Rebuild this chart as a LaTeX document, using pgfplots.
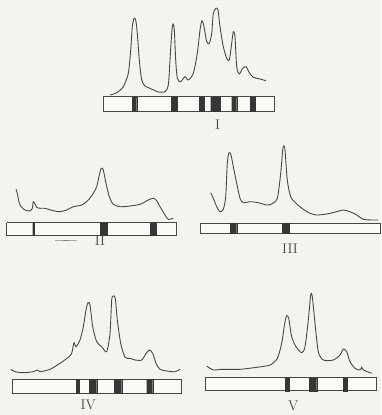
\documentclass[border=0pt]{standalone}
\usepackage{pgfplots}
\pgfplotsset{compat=1.18}
\definecolor{paper}{HTML}{F4F3EE}
\definecolor{ink}{HTML}{474745}
\definecolor{bandc}{HTML}{363634}
\newcommand{\strip}[4]{\addplot[fill=white!50!paper, draw=ink, line width=0.75pt] coordinates {(#1,#3) (#2,#3) (#2,#4) (#1,#4) (#1,#3)};}
\newcommand{\band}[4]{\addplot[fill=bandc, draw=bandc, line width=0.3pt] coordinates {(#1,#3) (#2,#3) (#2,#4) (#1,#4) (#1,#3)};}
\begin{document}
\begin{tikzpicture}
\begin{axis}[
  scale only axis, width=381pt, height=415pt,
  xmin=0, xmax=381, ymin=0, ymax=415, y dir=reverse,
  axis lines=none, clip=false,
  axis background/.style={fill=paper},
  trace/.style={ink, line width=0.9pt, smooth, tension=0.45, mark=none},
]
% ---------- Panel I ----------
\addplot[trace] coordinates {
(110,95) (116.7,92.7) (123.3,86.7) (128.3,73.3) (130.7,50) (132.3,26.7) (134,18.3) (135.7,20)
(137.3,33.3) (139.3,60) (141.7,80) (145,86) (150,88.3) (155,90.7) (158.3,92) (165,91.7)
(168.3,85) (170,60) (171.7,33.3) (173,24) (174.3,30) (175.7,60) (177.3,78.3) (180.7,81.7)
(185,76.7) (188.3,80) (193.3,73.3) (197.3,53.3) (200,30) (202,20.7) (204,26.7) (206.7,41.7)
(209.3,43.3) (211.7,33.3) (213.3,13.3) (216,8.3) (218,10) (220,26.7) (223.3,46.7) (226.7,58.3)
(229.3,60) (231.7,43.3) (233.3,31.7) (235,36.7) (236.7,66.7) (239.3,74) (242.7,68.3) (246,66.7)
(249.3,72.7) (253.3,77.3) (260,79) (266,80.7)};
\strip{103.3}{274.3}{96.7}{111}
\band{132.3}{136.7}{96.7}{111}
\band{171}{177.3}{96.7}{111}
\band{199.3}{204.3}{96.7}{111}
\band{210.7}{220}{96.7}{111}
\band{231.7}{236.7}{96.7}{111}
\band{250}{255}{96.7}{111}
\node[ink, font=\fontsize{14}{16}\selectfont] at (axis cs:217.7,125) {I};
% ---------- Panel II ----------
\addplot[trace] coordinates {
(16,189.3) (17.3,193.3) (19.3,203.3) (21.7,207.3) (25,210) (30,211) (32.3,208.3) (33.3,201.7)
(35,204) (36.7,207.3) (40,208.3) (45,208.3) (53.3,210.7) (60,211.7) (66.7,210) (73.3,206.7)
(81.7,205) (88.3,200) (93.3,193.3) (96.7,186.7) (99.3,175) (101.3,168.3) (103.3,170) (106,183.3)
(109.3,196.7) (113.3,204.3) (120,206.7) (130,206) (140,204.3) (148.3,200) (153.3,198.3)
(156.7,200.7) (160,206.7) (165,215) (168.3,219.3) (173.3,218.3)};
\strip{6.7}{176.7}{222.7}{235}
\band{32.7}{34.3}{222.7}{235}
\band{100}{107.3}{222.7}{235}
\band{150}{156}{222.7}{235}
\addplot[ink!70, line width=0.6pt, mark=none] coordinates {(55,240.7) (76.7,240.3)};
\node[ink, font=\fontsize{14}{16}\selectfont] at (axis cs:100,241) {II};
% ---------- Panel III ----------
\addplot[trace] coordinates {
(210.7,192.7) (213.3,198.3) (216.7,206.7) (220,211.7) (223.3,209.3) (225.7,196.7) (227.3,163.3)
(229,152.7) (231,155) (233.3,166.7) (236.7,183.3) (240,198.3) (243.3,202.7) (250,201.7)
(258.3,202.7) (266.7,205) (271.7,204) (277.3,198.3) (280.7,173.3) (282.7,150) (283.7,146)
(285,150) (287.3,180) (290.7,196.7) (296.7,204) (303.3,209.3) (310,213.3) (316.7,215)
(326.7,214) (336.7,211.7) (343.3,210) (350,211.7) (356.7,215) (363.3,219.3) (371.7,220) (378.3,220)};
\strip{200}{380}{223.3}{233.3}
\band{230}{236.7}{223.3}{233.3}
\band{282.3}{289.3}{223.3}{233.3}
\node[ink, font=\fontsize{14}{16}\selectfont] at (axis cs:290,248.3) {III};
% ---------- Panel IV ----------
\addplot[trace] coordinates {
(10.7,369.3) (15,371.7) (23.3,372.7) (33.3,371.7) (37.3,370) (40,371.7) (50,369.3) (60,363.3)
(68.3,357.3) (71.7,353.3) (74,342.7) (76,346.7) (80,340) (83.3,326.7) (86,310) (88,302.7)
(90,305) (92.7,326.7) (96.7,341.7) (101.7,346.7) (106.7,351.7) (110,333.3) (111.7,300)
(113.3,296) (115.3,298.3) (117.3,320) (120.7,343.3) (125,357.3) (130,358.3) (135,360)
(141.7,360) (145.7,354) (149.3,350) (152.7,353.3) (156,363.3) (160,369.3) (166.7,371)
(175,371.7) (180,369.3)};
\strip{12.7}{181.7}{379.3}{393.3}
\band{76}{79}{379.3}{393.3}
\band{89.3}{96.7}{379.3}{393.3}
\band{114.3}{121.7}{379.3}{393.3}
\band{146.7}{152.7}{379.3}{393.3}
\node[ink, font=\fontsize{14}{16}\selectfont] at (axis cs:88.3,405) {IV};
% ---------- Panel V ----------
\addplot[trace] coordinates {
(206.7,366) (210,368.3) (213.3,370) (223.3,369.3) (240,369.3) (256.7,367.3) (270,365)
(277.3,358.3) (281.7,343.3) (284.7,323.3) (286.7,315.7) (288.7,318.3) (291.7,336.7) (296,346.7)
(301.7,352.7) (305,346.7) (308.3,320) (310.7,295) (312.3,296.7) (315,323.3) (318.3,351.7)
(323.3,360) (333.3,360) (340,355) (343.3,349) (346.7,351.7) (350,361.7) (355,368.3) (360,370)
(361.7,367.3) (363.3,370) (371.7,373.3)};
\strip{205}{376.7}{377.7}{390.7}
\band{285}{289}{377.7}{390.7}
\band{309.3}{316.7}{377.7}{390.7}
\band{343.3}{347.3}{377.7}{390.7}
\node[ink, font=\fontsize{14}{16}\selectfont] at (axis cs:293.3,406) {V};
\end{axis}
\end{tikzpicture}
\end{document}
